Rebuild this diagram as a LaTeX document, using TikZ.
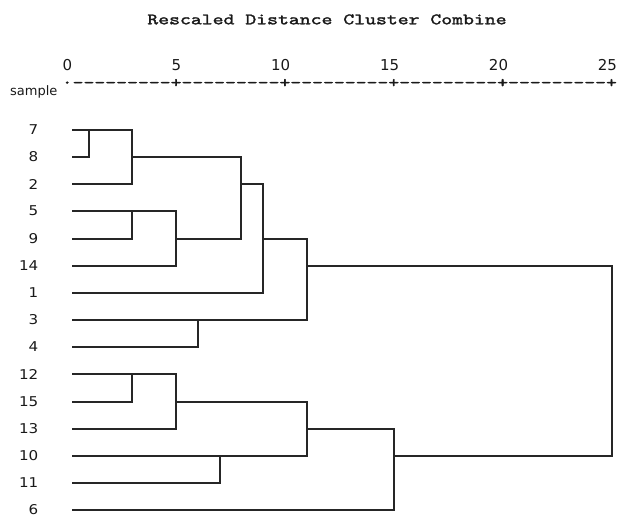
\documentclass[tikz,border=0pt]{standalone}
\usepackage{fontspec}
\newfontfamily\dejavu{DejaVu Sans}
\newfontfamily\courfont[FakeBold=1.6]{lmmono10-regular.otf}
\newcommand\dsh{-\kern0pt}
\newcommand\ninedash{\dsh\dsh\dsh\dsh\dsh\dsh\dsh\dsh\dsh}
\newcommand\dmerge[3]{\draw[link] (#2) -- (#2 -| #1) -- (#3 -| #1) -- (#3);}
\begin{document}
\begin{tikzpicture}[x=1pt,y=-1pt,
  declare function={rx(\d)=round(67+21.79*\d); ry(\i)=round(130+27.16*\i);},
  link/.style={draw=black!85, line width=1.7pt},
  leaf/.style={anchor=east, inner sep=0pt, text=black!90,
    font={\dejavu\fontsize{13.5}{15}\selectfont}},
  scalenum/.style={anchor=base east, inner sep=0pt, text=black!90,
    font={\dejavu\fontsize{15}{17}\selectfont}},
  monotext/.style={inner sep=0pt, text=black!90,
    font={\courfont\fontsize{16}{18}\selectfont}},
  sidelabel/.style={anchor=base west, inner sep=0pt, text=black!90,
    font={\dejavu\fontsize{13}{15}\selectfont}}]
\useasboundingbox (0,0) rectangle (618,515);

% title
\node[monotext, anchor=base] (title) at (327,24.3)
  {\scalebox{1.296}[1]{Rescaled Distance Cluster Combine}};

% scale numbers
\foreach \d in {0,5,10,15,20,25}
  \node[scalenum] (t\d) at ({67+21.79*\d+5.45},70) {\d};

% axis line
\node[sidelabel] (sample) at (10,95) {sample};
\node[monotext, anchor=base west] (axis) at (61.55,87.5)
  {\scalebox{1.296}[1]{·\kern0pt\ninedash+\ninedash+\ninedash+\ninedash+\ninedash+}};

% leaves
\foreach \lab [count=\i from 0] in {7,8,2,5,9,14,1,3,4,12,15,13,10,11,6} {
  \node[leaf] (n\lab) at (38.5,{ry(\i)}) {\scalebox{1.12}[1]{\lab}};
  \coordinate (s\lab) at (72,{ry(\i)});
}

% cluster points
\coordinate (A) at ({rx(1)},{ry(0)});
\coordinate (B) at ({rx(3)},{ry(1)});
\coordinate (C) at ({rx(3)},{ry(3)});
\coordinate (D) at ({rx(5)},{ry(4)});
\coordinate (E) at ({rx(8)},{ry(2)});
\coordinate (F) at ({rx(9)},{ry(4)});
\coordinate (G) at ({rx(6)},{ry(7)});
\coordinate (H) at ({rx(11)},{ry(5)});
\coordinate (I) at ({rx(3)},{ry(9)});
\coordinate (J) at ({rx(5)},{ry(10)});
\coordinate (K) at ({rx(7)},{ry(12)});
\coordinate (L) at ({rx(11)},{ry(11)});
\coordinate (M) at ({rx(15)},{ry(12)});
\coordinate (N) at ({rx(25)},{ry(8)});

\dmerge{A}{s7}{s8}
\dmerge{B}{A}{s2}
\dmerge{C}{s5}{s9}
\dmerge{D}{C}{s14}
\dmerge{E}{B}{D}
\dmerge{F}{E}{s1}
\dmerge{G}{s3}{s4}
\dmerge{H}{F}{G}
\dmerge{I}{s12}{s15}
\dmerge{J}{I}{s13}
\dmerge{K}{s10}{s11}
\dmerge{L}{J}{K}
\dmerge{M}{L}{s6}
\dmerge{N}{H}{M}
\end{tikzpicture}
\end{document}
